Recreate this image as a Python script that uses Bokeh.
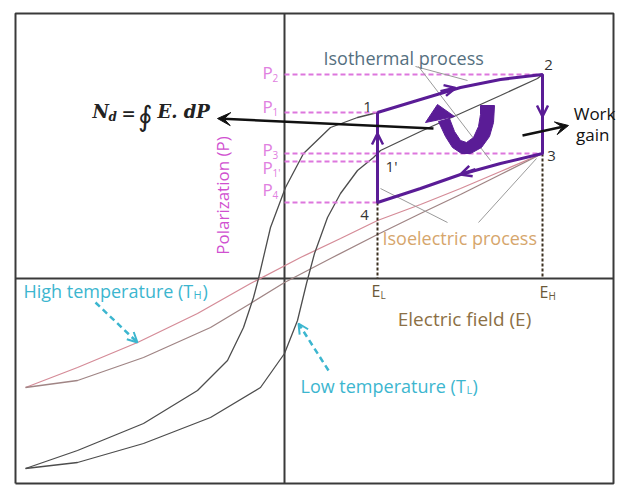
from bokeh.plotting import figure
from bokeh.models import Range1d, Arrow, OpenHead, VeeHead
from bokeh.core.properties import value
from bokeh.embed import file_html
from bokeh.resources import INLINE

# ---------------- data (arbitrary units, origin at the axes crossing) ----------------
E_L = 93
E_H = 258

# polarization levels
P_names = ["2", "1", "3", "1'", "4"]
P_values = [204, 166, 125, 117, 76]
P_dash_end = [E_H, E_L, E_H, E_L, E_L]
P_label_y = [206, 172, 129, 111, 89]

# cycle corner labels
pt_names = ["1", "2", "3", "4", "1'"]
pt_label_E = [83, 264, 267, 80, 107]
pt_label_P = [172, 214, 123, 64, 113]

# isothermal branches of the cycle
iso_top_E = [E_L, 136, 176, 216, E_H]
iso_top_P = [166, 179, 191, 199, 204]
iso_bot_E = [E_H, 216, 176, 136, E_L]
iso_bot_P = [125, 115, 104, 90, 76]

# low temperature hysteresis loop
lowT_up_E = [-259, -207, -141, -87, -57, -41, -31, -26, -14, 1, 19, 46, 73, 93, 136, 176, 216, 258]
lowT_up_P = [-190, -172, -145, -112, -82, -49, -19, 0, 51, 91, 125, 151, 161, 166, 179, 191, 199, 204]
lowT_dn_E = [-259, -207, -141, -74, -24, 0, 13, 22, 30, 43, 56, 73, 89, 96, 136, 176, 216, 253, 258]
lowT_dn_P = [-190, -184, -165, -139, -109, -75, -42, -5, 25, 61, 85, 108, 121, 128, 147, 165, 183, 200, 204]

# high temperature hysteresis loop
highT_up_E = [-259, -207, -147, -87, -34, 16, 56, 93, 136, 176, 216, 258]
highT_up_P = [-109, -89, -64, -35, -5, 21, 40, 58, 74, 90, 107, 125]
highT_dn_E = [-259, -207, -141, -74, -34, 0, 46, 93, 136, 176, 216, 258]
highT_dn_P = [-109, -102, -79, -49, -25, -4, 20, 44, 65, 84, 104, 125]

# rotating (work) arrow outline
U_E = [210, 209, 205, 197, 186, 177, 168, 161, 154, 165, 170, 176, 182, 189, 194, 196, 196]
U_P = [173, 156, 142, 131, 125, 125, 131, 142, 157, 160, 147, 138, 136, 141, 152, 164, 173]
U_head_E = [153, 141, 170]
U_head_P = [174, 156, 162]

# frame of the diagram
frame_left, frame_right, frame_bottom, frame_top = -269, 329, -205, 265

# ---------------- colours ----------------
PURPLE = "#5a1c96"
PINK = "#dd77dd"
CYAN = "#3cb6cf"
AXIS = "#3a3a3a"

p = figure(width=618, height=485, output_backend="svg", toolbar_location=None,
           x_range=Range1d(-284, 334), y_range=Range1d(-207, 278),
           x_axis_location=None, y_axis_location=None, min_border=0)
p.grid.visible = False
p.outline_line_color = None
p.background_fill_color = "white"
p.border_fill_color = "white"

# frame and axes
p.line([frame_left, frame_right, frame_right, frame_left, frame_left],
       [frame_bottom, frame_bottom, frame_top, frame_top, frame_bottom],
       line_color=AXIS, line_width=2)
p.segment(x0=[0, frame_left], y0=[frame_bottom, 0], x1=[0, frame_right], y1=[frame_top, 0],
          line_color=AXIS, line_width=2)

# hysteresis loops
p.line(highT_up_E, highT_up_P, line_color="#d58c98", line_width=1.3)
p.line(highT_dn_E, highT_dn_P, line_color="#a08585", line_width=1.3)
p.line(lowT_up_E, lowT_up_P, line_color="#4d4d4d", line_width=1.3)
p.line(lowT_dn_E, lowT_dn_P, line_color="#4d4d4d", line_width=1.3)

# pink dashed polarization levels
p.segment(x0=[0] * len(P_values), y0=P_values, x1=P_dash_end, y1=P_values,
          line_color=PINK, line_width=1.8, line_dash="5 3")
# dashed field levels
p.segment(x0=[E_L, E_H], y0=[76, 125], x1=[E_L, E_H], y1=[0, 0],
          line_color="#3b2f1f", line_width=2, line_dash="3 2")

# pointer lines
p.segment(x0=[131, 134, 163, 194], y0=[212, 212, 56, 56],
          x1=[183, 206, 96, 252], y1=[198, 118, 90, 120],
          line_color="#9a9a9a", line_width=1)

# the cycle
cyc_E = iso_top_E + iso_bot_E + [iso_top_E[0]]
cyc_P = iso_top_P + iso_bot_P + [iso_top_P[0]]
p.line(cyc_E, cyc_P, line_color=PURPLE, line_width=3)
for xs, ys, xe, ye in [(156, 187, 171, 190.5), (E_H, 178, E_H, 162), (191, 109, 176, 104), (E_L, 128, E_L, 145)]:
    p.add_layout(Arrow(end=OpenHead(size=11, line_color=PURPLE, line_width=2.5),
                       x_start=xs, y_start=ys, x_end=xe, y_end=ye,
                       line_color=PURPLE, line_width=3))

# big rotating arrow
p.patch(U_E, U_P, fill_color=PURPLE, line_color=PURPLE, line_width=1)
p.patch(U_head_E, U_head_P, fill_color=PURPLE, line_color=PURPLE, line_width=1)

# black arrows
p.add_layout(Arrow(end=VeeHead(size=13, fill_color="#111111", line_color="#111111"),
                   x_start=149, y_start=150, x_end=-67, y_end=160,
                   line_color="#111111", line_width=2.5))
p.add_layout(Arrow(end=VeeHead(size=13, fill_color="#111111", line_color="#111111"),
                   x_start=238, y_start=143, x_end=284, y_end=153,
                   line_color="#111111", line_width=2.5))

# cyan dashed arrows
for xs, ys, xe, ye in [(-189, -24, -147, -64), (44, -92, 14, -45)]:
    p.add_layout(Arrow(end=OpenHead(size=10, line_color=CYAN, line_width=2),
                       x_start=xs, y_start=ys, x_end=xe, y_end=ye,
                       line_color=CYAN, line_width=2.5, line_dash="6 4"))


def txt(x, y, s, size, color, align="left", font="Open Sans", style="normal", angle=0.0):
    p.text(x=[x], y=[y], text=[s], text_font=value(font), text_font_size=f"{size}px",
           text_color=color, text_align=align, text_baseline="middle",
           text_font_style=style, angle=angle)


# texts
txt(39, 221, "Isothermal process", 18, "#557080")
txt(98, 41, "Isoelectric process", 18, "#d6a66c")
txt(180, -40, "Electric field (E)", 19, "#8c7045", align="center")
txt(-62, 83, "Polarization (P)", 17, "#d050d0", align="center", angle=1.5708)
txt(331, 165, "Work", 17, "#111111", align="right")
txt(325, 144, "gain", 17, "#111111", align="right")

for n, x, y in zip(pt_names, pt_label_E, pt_label_P):
    txt(x, y, n, 15, "#333333", align="center")

for n, y in zip(P_names, P_label_y):
    txt(-22, y, "P", 17, "#e080e0")
    txt(-12, y - 5, n, 10, "#e080e0")

txt(87, -12, "E", 16, "#6b5a3a")
txt(96, -16, "L", 10, "#6b5a3a")
txt(255, -13, "E", 16, "#6b5a3a")
txt(264, -17, "H", 10, "#6b5a3a")

txt(-261, -12, "High temperature (T", 18, CYAN)
txt(-91, -16, "H", 11, CYAN)
txt(-82, -12, ")", 18, CYAN)
txt(16, -107, "Low temperature (T", 18, CYAN)
txt(182, -111, "L", 11, CYAN)
txt(188, -107, ")", 18, CYAN)

# formula
txt(-192, 167, "N", 18, "#222222", font="DejaVu Serif", style="bold italic")
txt(-176, 162, "d", 12, "#222222", font="DejaVu Serif", style="bold italic")
txt(-163, 166, "=", 17, "#222222", font="DejaVu Serif", style="bold")
txt(-147, 162, "\u222e", 28, "#222222", font="DejaVu Serif")
txt(-127, 167, "E. dP", 18, "#222222", font="DejaVu Serif", style="bold italic")

open("out.html", "w").write(file_html(p, INLINE))
